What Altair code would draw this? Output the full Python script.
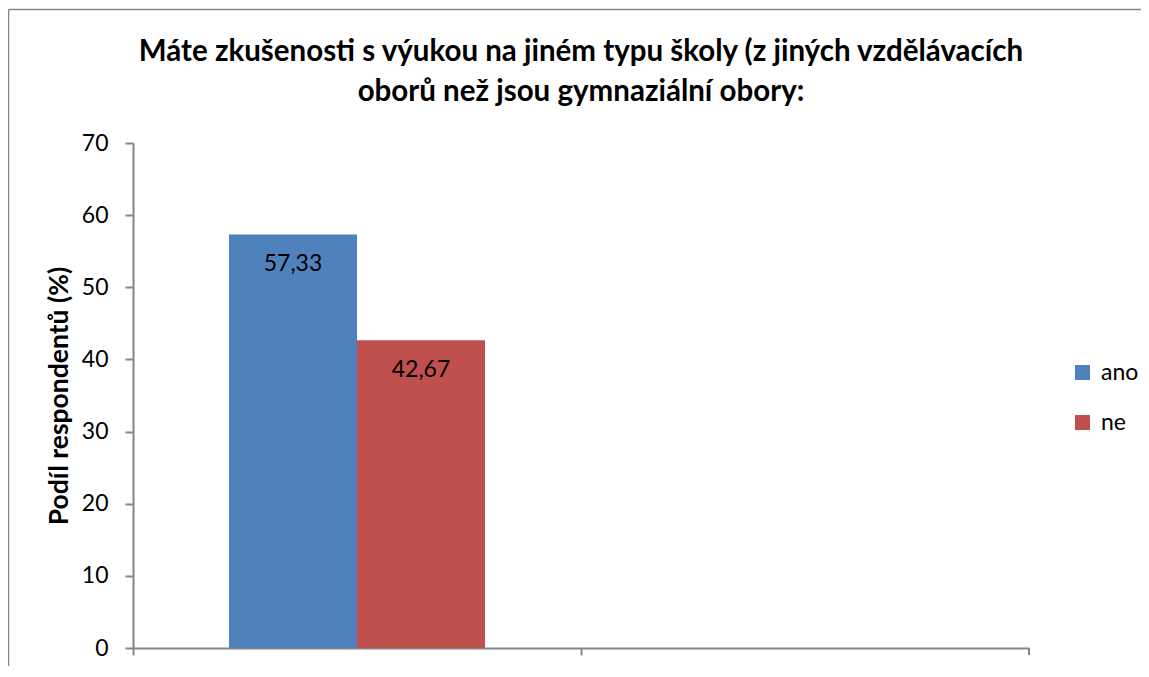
import altair as alt
import pandas as pd

# ---- data ----
groups = ["A", "B"]           # two category slots on the x axis (second one empty)
series = ["ano", "ne"]
values = [57.33, 42.67]
labels = [f"{v:.2f}".replace(".", ",") for v in values]
y_ticks = [0, 10, 20, 30, 40, 50, 60, 70]
colors = ["#4F81BD", "#C0504D"]
title_lines = [
    "Máte zkušenosti s výukou na jiném typu školy (z jiných vzdělávacích",
    "oborů než jsou gymnaziální obory:",
]
y_title = "Podíl respondentů (%)"

df = pd.DataFrame({"g": [groups[0]] * len(series), "s": series, "v": values, "lab": labels})

FONT = "Lato"
AXIS_GRAY = "#868686"
W, H = 896, 505
PAD_R = 112

x_enc = alt.X("g:N", scale=alt.Scale(domain=groups, paddingInner=0, paddingOuter=0),
              axis=alt.Axis(labels=False, title=None, ticks=True, tickSize=7, bandPosition=0,
                            domainColor=AXIS_GRAY, tickColor=AXIS_GRAY, domainWidth=2, tickWidth=2))
xo_enc = alt.XOffset("s:N", scale=alt.Scale(domain=series, paddingInner=0, paddingOuter=0.75))
y_enc = alt.Y("v:Q", scale=alt.Scale(domain=[0, 70], nice=False),
              axis=alt.Axis(values=y_ticks, title=y_title, grid=False, tickSize=8,
                            domainColor=AXIS_GRAY, tickColor=AXIS_GRAY, domainWidth=2, tickWidth=2,
                            labelFont=FONT, labelFontSize=23, labelColor="#000000", labelPadding=17,
                            titleFont=FONT, titleFontSize=26.5, titleFontWeight="bold",
                            titleColor="#000000", titlePadding=8))

base = alt.Chart(df)

bars = base.mark_bar().encode(
    x=x_enc,
    xOffset=xo_enc,
    y=y_enc,
    color=alt.Color("s:N", scale=alt.Scale(domain=series, range=colors),
                    legend=alt.Legend(title=None, orient="none", legendX=938, legendY=218,
                                      symbolType="square", symbolSize=225, symbolStrokeWidth=0,
                                      labelFont=FONT, labelFontSize=23, labelColor="#000000",
                                      labelOffset=7, rowPadding=26, padding=0)),
)

text = base.mark_text(font=FONT, fontSize=23, color="#000000", baseline="middle", dy=30).encode(
    x="g:N",
    xOffset=xo_enc,
    y="v:Q",
    text="lab:N",
)

end_tick = alt.Chart(alt.Data(values=[{}])).mark_rule(color=AXIS_GRAY, strokeWidth=2).encode(
    x=alt.value(W), y=alt.value(H), y2=alt.value(H + 7)
)

one = alt.Data(values=[{}])
border_top = alt.Chart(one).mark_rule(color=AXIS_GRAY, strokeWidth=1.5).encode(
    x=alt.value(-124.5), x2=alt.value(W + PAD_R + 40), y=alt.value(-133.5)
)
border_left = alt.Chart(one).mark_rule(color=AXIS_GRAY, strokeWidth=1.5).encode(
    x=alt.value(-124.5), y=alt.value(-133.5), y2=alt.value(H + 30)
)

title = alt.Chart(one).mark_text(
    text=title_lines, font=FONT, fontSize=29.5, fontWeight="bold", color="#000000",
    align="center", baseline="top", lineHeight=40,
).encode(x=alt.value(W / 2), y=alt.value(-105))

chart = alt.layer(border_top, border_left, bars, text, end_tick, title).properties(
    width=W,
    height=H,
    padding={"left": 125, "top": 135, "right": PAD_R, "bottom": 18},
    autosize=alt.AutoSizeParams(type="none"),
).configure_view(stroke=None)

chart.save("out.html", embed_options={"renderer": "svg", "actions": False})
